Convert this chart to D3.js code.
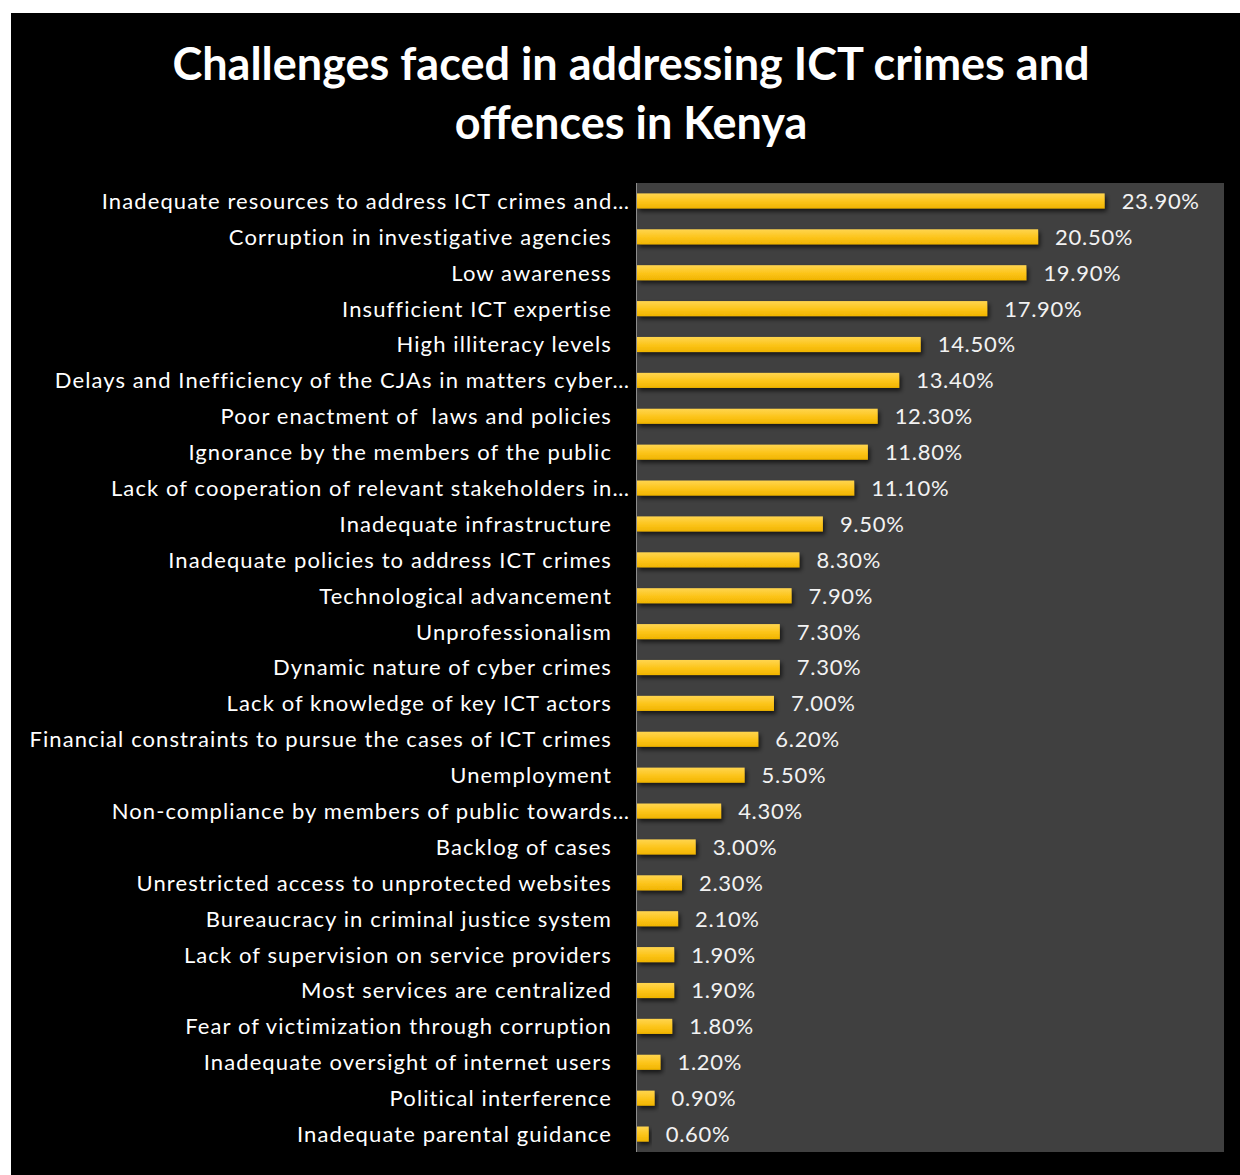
<!DOCTYPE html>
<html>
<head>
<meta charset="utf-8">
<script src="https://cdn.jsdelivr.net/npm/d3@7"></script>
<style>
  html, body { margin: 0; padding: 0; background: #ffffff; }
  svg { display: block; }
</style>
</head>
<body>
<svg id="chart" width="1240" height="1175"></svg>
<script>
// Survey categories (top to bottom) and their share of responses (%)
const categories = [
  "Inadequate resources to address ICT crimes and…",
  "Corruption in investigative agencies",
  "Low awareness",
  "Insufficient ICT expertise",
  "High illiteracy levels",
  "Delays and Inefficiency of the CJAs in matters cyber…",
  "Poor enactment of  laws and policies",
  "Ignorance by the members of the public",
  "Lack of cooperation of relevant stakeholders in…",
  "Inadequate infrastructure",
  "Inadequate policies to address ICT crimes",
  "Technological advancement",
  "Unprofessionalism",
  "Dynamic nature of cyber crimes",
  "Lack of knowledge of key ICT actors",
  "Financial constraints to pursue the cases of ICT crimes",
  "Unemployment",
  "Non-compliance by members of public towards…",
  "Backlog of cases",
  "Unrestricted access to unprotected websites",
  "Bureaucracy in criminal justice system",
  "Lack of supervision on service providers",
  "Most services are centralized",
  "Fear of victimization through corruption",
  "Inadequate oversight of internet users",
  "Political interference",
  "Inadequate parental guidance"
];
const values = [23.9, 20.5, 19.9, 17.9, 14.5, 13.4, 12.3, 11.8, 11.1, 9.5, 8.3, 7.9, 7.3, 7.3, 7.0,
                6.2, 5.5, 4.3, 3.0, 2.3, 2.1, 1.9, 1.9, 1.8, 1.2, 0.9, 0.6];
const titleLines = ["Challenges faced in addressing ICT crimes and", "offences in Kenya"];
const xDomainMax = 30;

const svg = d3.select("#chart");
const FONT = "Lato, 'Open Sans', sans-serif";

// Outer black chart area
svg.append("rect").attr("x", 11).attr("y", 13).attr("width", 1229).attr("height", 1162).attr("fill", "#000000");

const plot = { left: 637, top: 183, right: 1224, bottom: 1152 };

const defs = svg.append("defs");
const grad = defs.append("linearGradient").attr("id", "barGrad")
  .attr("x1", 0).attr("y1", 0).attr("x2", 0).attr("y2", 1);
grad.append("stop").attr("offset", "0%").attr("stop-color", "#ffd54f");
grad.append("stop").attr("offset", "55%").attr("stop-color", "#fcc419");
grad.append("stop").attr("offset", "100%").attr("stop-color", "#f0b400");
const shadow = defs.append("filter").attr("id", "barShadow")
  .attr("x", "-10%").attr("y", "-50%").attr("width", "130%").attr("height", "250%");
shadow.append("feDropShadow").attr("dx", 2).attr("dy", 3).attr("stdDeviation", 2.2)
  .attr("flood-color", "#000").attr("flood-opacity", 0.65);

// Plot background
svg.append("rect").attr("x", plot.left).attr("y", plot.top)
  .attr("width", plot.right - plot.left).attr("height", plot.bottom - plot.top)
  .attr("fill", "#404040");

const x = d3.scaleLinear().domain([0, xDomainMax]).range([plot.left, plot.right]);
const y = d3.scaleBand().domain(categories).range([plot.top, plot.bottom]).paddingInner(0.58).paddingOuter(0.29);

// Title
const title = svg.append("text").attr("text-anchor", "middle")
  .attr("font-family", FONT).attr("font-weight", 700).attr("font-size", 45)
  .attr("fill", "#ffffff");
titleLines.forEach((t, i) => {
  title.append("tspan").attr("x", 631).attr("y", 80 + i * 59).text(t);
});

// Bars
const data = categories.map((c, i) => ({ c, v: values[i] }));
svg.append("g").selectAll("rect").data(data).join("rect")
  .attr("x", x(0))
  .attr("y", d => y(d.c))
  .attr("width", d => x(d.v) - x(0))
  .attr("height", y.bandwidth())
  .attr("fill", "url(#barGrad)")
  .attr("filter", "url(#barShadow)");

// Vertical category axis line
svg.append("line").attr("x1", plot.left - 0.5).attr("x2", plot.left - 0.5)
  .attr("y1", plot.top).attr("y2", plot.bottom)
  .attr("stroke", "#8c8c8c").attr("stroke-width", 1);

// Category labels
svg.append("g").selectAll("text").data(data).join("text")
  .attr("x", d => d.c.endsWith("…") ? 630 : 612)
  .attr("y", d => y(d.c) + y.bandwidth() / 2)
  .attr("dy", "0.36em")
  .attr("text-anchor", "end")
  .attr("font-family", FONT).attr("font-size", 22)
  .attr("letter-spacing", 1.1)
  .attr("fill", "#ffffff")
  .style("white-space", "pre")
  .text(d => d.c);

// Value labels
svg.append("g").selectAll("text").data(data).join("text")
  .attr("x", d => x(d.v) + 17)
  .attr("y", d => y(d.c) + y.bandwidth() / 2)
  .attr("dy", "0.36em")
  .attr("font-family", FONT).attr("font-size", 22)
  .attr("letter-spacing", 0.7)
  .attr("fill", "#f2f2f2")
  .text(d => d.v.toFixed(2) + "%");
</script>
</body>
</html>
